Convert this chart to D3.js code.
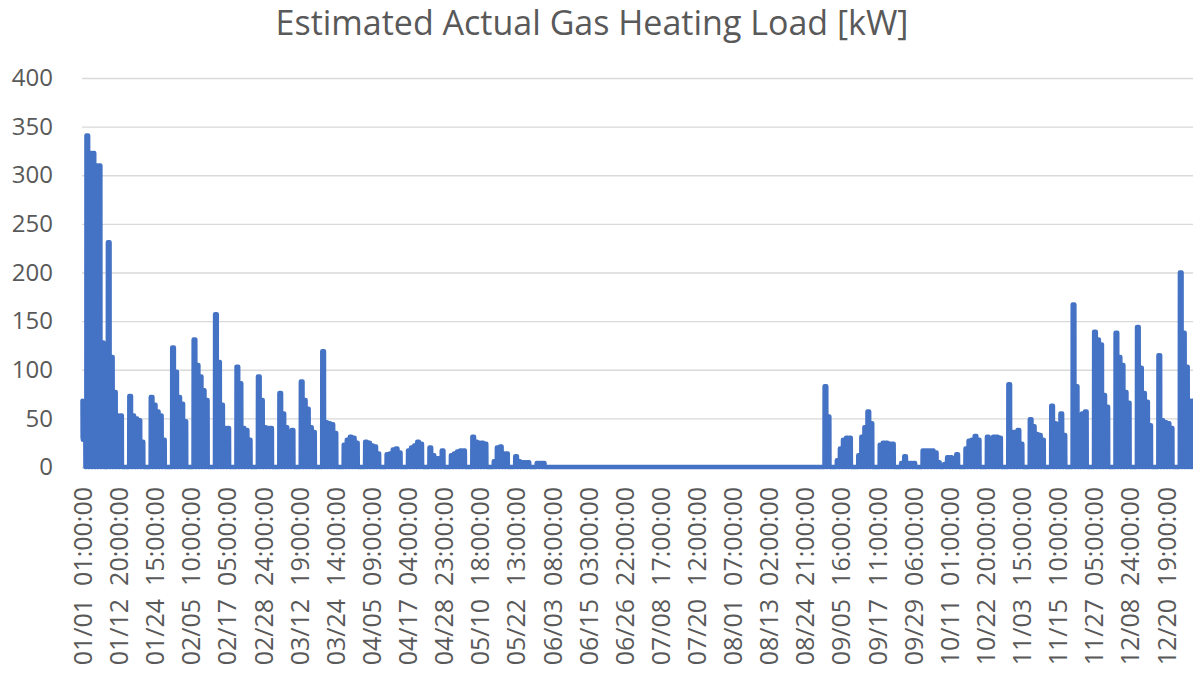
<!DOCTYPE html>
<html>
<head>
<meta charset="utf-8">
<script src="https://cdn.jsdelivr.net/npm/d3@7"></script>
<style>
  body { margin: 0; background: #fff; }
  svg text { font-family: "Open Sans", sans-serif; fill: #595959; }
</style>
</head>
<body>
<svg id="chart" width="1193" height="677"></svg>
<script>
const chartTitle = "Estimated Actual Gas Heating Load [kW]";

const yTicks = [0, 50, 100, 150, 200, 250, 300, 350, 400];

// Excel shows every 283rd hourly category
const labelStep = 283;
const xTickLabels = [
  "01/01  01:00:00", "01/12  20:00:00", "01/24  15:00:00", "02/05  10:00:00",
  "02/17  05:00:00", "02/28  24:00:00", "03/12  19:00:00", "03/24  14:00:00",
  "04/05  09:00:00", "04/17  04:00:00", "04/28  23:00:00", "05/10  18:00:00",
  "05/22  13:00:00", "06/03  08:00:00", "06/15  03:00:00", "06/26  22:00:00",
  "07/08  17:00:00", "07/20  12:00:00", "08/01  07:00:00", "08/13  02:00:00",
  "08/24  21:00:00", "09/05  16:00:00", "09/17  11:00:00", "09/29  06:00:00",
  "10/11  01:00:00", "10/22  20:00:00", "11/03  15:00:00", "11/15  10:00:00",
  "11/27  05:00:00", "12/08  24:00:00", "12/20  19:00:00"
];

// hourly load on 01/01 (a Sunday)
const jan1Loads = [68, 30, 65, 28, 62, 30, 66, 29, 60, 28, 64, 30,
                   58, 28, 62, 30, 55, 28, 60, 29, 50, 28, 45, 0];

// daily peak load [kW], one row per week, Mon..Sun, starting 01/02
const weekPeaks = [
  [341, 323, 323, 310, 310, 128, 0],
  [231, 113, 77, 53, 53, 0, 0],
  [73, 53, 50, 48, 26, 0, 0],
  [72, 64, 57, 53, 28, 0, 0],
  [123, 98, 72, 65, 47, 0, 0],
  [131, 105, 93, 79, 69, 0, 0],
  [157, 108, 64, 40, 40, 0, 0],
  [103, 86, 40, 38, 28, 0, 0],
  [93, 69, 41, 40, 40, 0, 0],
  [76, 55, 41, 36, 38, 0, 0],
  [88, 69, 60, 41, 36, 0, 0],
  [119, 46, 45, 44, 35, 0, 0],
  [23, 28, 31, 30, 25, 0, 0],
  [26, 25, 22, 21, 14, 0, 0],
  [13, 14, 18, 19, 15, 0, 0],
  [17, 20, 22, 26, 24, 0, 0],
  [20, 12, 9, 9, 17, 0, 0],
  [12, 14, 16, 17, 17, 0, 0],
  [31, 26, 25, 25, 24, 0, 0],
  [6, 20, 21, 14, 14, 0, 0],
  [11, 6, 5, 5, 5, 0, 0],
  [4, 4, 4, 0, 0, 0, 0],
  [0, 0, 0, 0, 0, 0, 0],
  [0, 0, 0, 0, 0, 0, 0],
  [0, 0, 0, 0, 0, 0, 0],
  [0, 0, 0, 0, 0, 0, 0],
  [0, 0, 0, 0, 0, 0, 0],
  [0, 0, 0, 0, 0, 0, 0],
  [0, 0, 0, 0, 0, 0, 0],
  [0, 0, 0, 0, 0, 0, 0],
  [0, 0, 0, 0, 0, 0, 0],
  [0, 0, 0, 0, 0, 0, 0],
  [0, 0, 0, 0, 0, 0, 0],
  [0, 0, 0, 0, 0, 0, 0],
  [0, 0, 0, 83, 52, 0, 0],
  [7, 19, 28, 30, 30, 0, 0],
  [12, 31, 41, 57, 45, 0, 0],
  [23, 25, 25, 24, 24, 0, 0],
  [4, 11, 4, 4, 4, 0, 0],
  [17, 17, 17, 17, 15, 5, 0],
  [3, 10, 10, 9, 13, 0, 0],
  [19, 27, 28, 32, 28, 0, 0],
  [31, 29, 31, 31, 30, 0, 0],
  [85, 36, 36, 38, 24, 0, 0],
  [49, 42, 34, 33, 28, 0, 0],
  [63, 45, 44, 55, 33, 0, 0],
  [167, 83, 52, 55, 57, 0, 0],
  [139, 131, 126, 74, 62, 0, 0],
  [138, 113, 105, 77, 66, 0, 0],
  [144, 102, 76, 67, 43, 0, 0],
  [115, 48, 46, 45, 40, 0, 0],
  [200, 138, 103, 68, 68, 0, 0]
];

const width = 1193, height = 677;
const plotLeft = 82, plotTop = 78, plotBottom = 467;

const svg = d3.select("#chart");

// hourly index -> x, label positions fixed the scale (first and last label)
const x = d3.scaleLinear()
  .domain([0, labelStep * (xTickLabels.length - 1)])
  .range([82.5, 1166]);

const y = d3.scaleLinear().domain([0, 400]).range([plotBottom, plotTop]);

// build the hourly series: heating runs during the day, off at night
const series = [];
jan1Loads.forEach((v, h) => series.push([h, v]));
weekPeaks.forEach((week, w) => {
  week.forEach((peak, k) => {
    const h0 = (1 + w * 7 + k) * 24;
    series.push([h0, 0], [h0 + 6, 0], [h0 + 7, peak], [h0 + 20, peak], [h0 + 21, 0]);
  });
});

// title
svg.append("text")
  .attr("x", 592)
  .attr("y", 23)
  .attr("dy", "0.35em")
  .attr("text-anchor", "middle")
  .style("font-size", "34px")
  .text(chartTitle);

// y axis + gridlines
const yAxis = svg.append("g")
  .attr("transform", `translate(${plotLeft},0)`)
  .call(d3.axisLeft(y).tickValues(yTicks).tickSize(-(width - plotLeft)).tickPadding(29));
yAxis.select(".domain").remove();
yAxis.selectAll("line").attr("stroke", "#d9d9d9").attr("stroke-width", 1.3);
yAxis.selectAll("text")
  .style("font-size", "24px")
  .style("font-family", "'Open Sans', sans-serif")
  .attr("fill", "#595959");

// x axis labels, rotated
const xAxis = svg.append("g")
  .attr("transform", `translate(0,${plotBottom})`)
  .call(d3.axisBottom(x)
    .tickValues(xTickLabels.map((d, i) => i * labelStep))
    .tickFormat((d, i) => xTickLabels[i])
    .tickSize(0));
xAxis.select(".domain").remove();
xAxis.selectAll("text")
  .attr("transform", "rotate(-90)")
  .attr("x", -20)
  .attr("y", 0)
  .attr("dy", "0.36em")
  .attr("text-anchor", "end")
  .attr("fill", "#595959")
  .style("font-size", "25px")
  .style("font-family", "'Open Sans', sans-serif")
  .style("white-space", "pre");

// the load line
svg.append("path")
  .datum(series)
  .attr("fill", "none")
  .attr("stroke", "#4472C4")
  .attr("stroke-width", 4.5)
  .attr("stroke-linejoin", "round")
  .attr("stroke-linecap", "round")
  .attr("d", d3.line().x(d => x(d[0])).y(d => y(d[1])));
</script>
</body>
</html>
